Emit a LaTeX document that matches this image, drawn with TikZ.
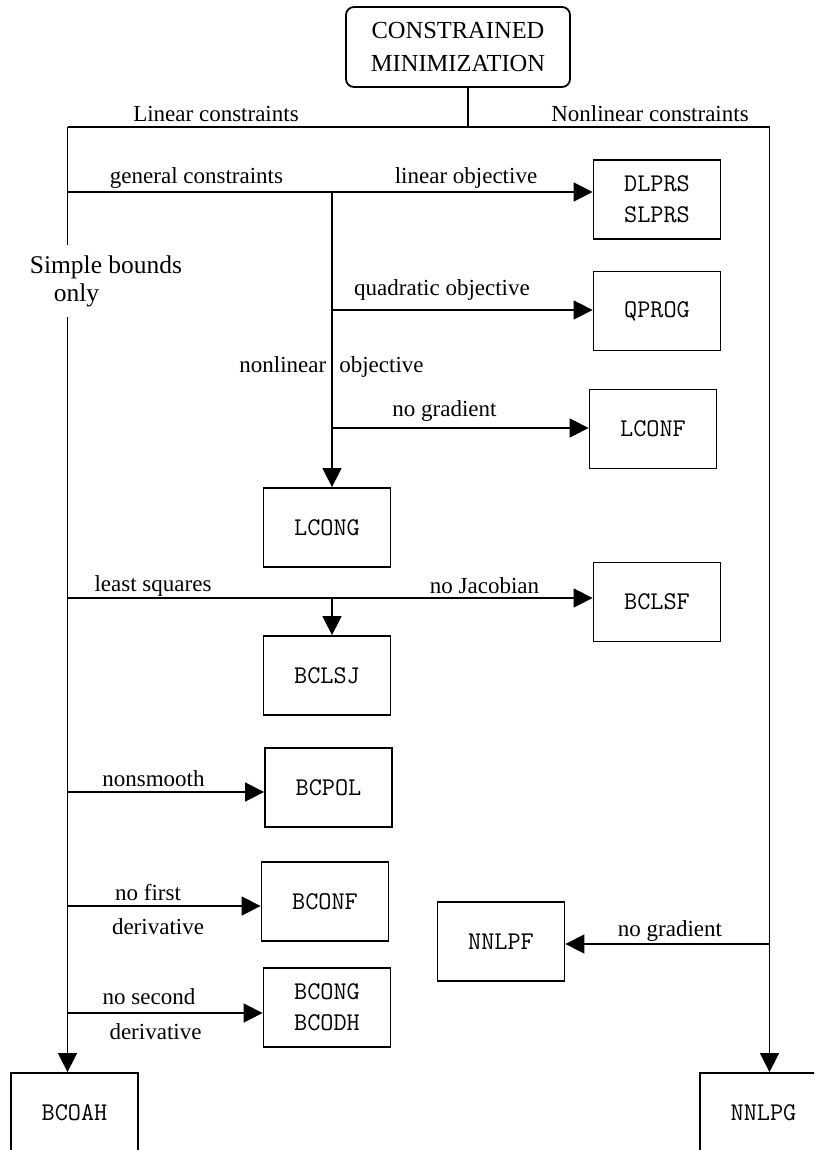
\documentclass[tikz,border=0pt]{standalone}
\usepackage{fontspec}
\setmainfont{Liberation Serif}
\usetikzlibrary{arrows.meta}

\begin{document}
\begin{tikzpicture}[x=1pt, y=-1pt, line width=1.5pt,
  every node/.style={font=\fontsize{23}{26}\selectfont},
  prog/.style={draw, line width=1.8pt, minimum width=127pt, minimum height=79pt,
    inner sep=0pt, align=center, font=\ttfamily\fontsize{25.5}{31}\selectfont},
  arr/.style={-{Triangle[length=19pt,width=19pt]}}]
  \useasboundingbox (0,0) rectangle (814,1150);
  \clip (0,0) rectangle (814,1150);
  % routines
  \node[prog, rounded corners=8pt, minimum width=224pt, minimum height=80pt,
    font=\fontsize{24.5}{33}\selectfont] (cm) at (458,47) {CONSTRAINED\\MINIMIZATION};
  \node[prog] (dlprs) at (657,199.5) {DLPRS\\SLPRS};
  \node[prog] (qprog) at (657,311) {QPROG};
  \node[prog] (lconf) at (653,429) {LCONF};
  \node[prog] (lcong) at (327,527.5) {LCONG};
  \node[prog] (bclsf) at (657,602) {BCLSF};
  \node[prog] (bclsj) at (327,675.5) {BCLSJ};
  \node[prog] (bcpol) at (328.5,787.5) {BCPOL};
  \node[prog] (bconf) at (325,901.5) {BCONF};
  \node[prog] (nnlpf) at (501,941.5) {NNLPF};
  \node[prog] (bcong) at (327,1007.5) {BCONG\\BCODH};
  \node[prog] (bcoah) at (74.5,1112.5) {BCOAH};
  \node[prog] (nnlpg) at (763.5,1112.5) {NNLPG};
  \node[font=\fontsize{25.5}{28}\selectfont, align=left, inner xsep=0pt, inner ysep=10pt]
    (sb) at (106,281) {Simple bounds\\\hspace*{24pt}only};
  % branch points
  \coordinate (split) at (468,127);
  \coordinate (lin) at (67.5,127);
  \coordinate (nonlin) at (769.5,127);
  \coordinate (gen) at (67.5,192);
  \coordinate (obj) at (332,192);
  \coordinate (quad) at (332,310);
  \coordinate (nograd) at (332,428);
  \coordinate (lsq) at (67.5,598);
  \coordinate (lsqj) at (332,598);
  \coordinate (nons) at (67.5,792);
  \coordinate (nofirst) at (67.5,906);
  \coordinate (nosec) at (67.5,1013);
  \coordinate (ngrad) at (769.5,944);
  % connectors
  \draw (cm.south -| split) -- (split);
  \draw (lin) -- (nonlin);
  \draw (lin) -- (lin |- sb.north);
  \draw[arr] (lin |- sb.south) -- (lin |- bcoah.north);
  \draw[arr] (nonlin) -- (nonlin |- nnlpg.north);
  \draw[arr] (gen) -- (gen -| dlprs.west);
  \draw[arr] (obj) -- (obj |- lcong.north);
  \draw[arr] (quad) -- (quad -| qprog.west);
  \draw[arr] (nograd) -- (nograd -| lconf.west);
  \draw[arr] (lsq) -- (lsq -| bclsf.west);
  \draw[arr] (lsqj) -- (lsqj |- bclsj.north);
  \draw[arr] (nons) -- (nons -| bcpol.west);
  \draw[arr] (nofirst) -- (nofirst -| bconf.west);
  \draw[arr] (nosec) -- (nosec -| bcong.west);
  \draw[arr] (ngrad) -- (ngrad -| nnlpf.east);
  % labels
  \node at (216,114) {Linear constraints};
  \node at (650,114) {Nonlinear constraints};
  \node at (196.5,178) {general constraints};
  \node at (466,178) {linear objective};
  \node at (442,290) {quadratic objective};
  \node at (331.5,367) {nonlinear\hspace{13pt}objective};
  \node at (444.5,411) {no gradient};
  \node at (153,586) {least squares};
  \node at (484.5,586) {no Jacobian};
  \node at (153.5,779) {nonsmooth};
  \node at (148,893) {no first};
  \node at (158,927) {derivative};
  \node at (149,997) {no second};
  \node at (155.5,1032) {derivative};
  \node at (670,931) {no gradient};
\end{tikzpicture}
\end{document}
